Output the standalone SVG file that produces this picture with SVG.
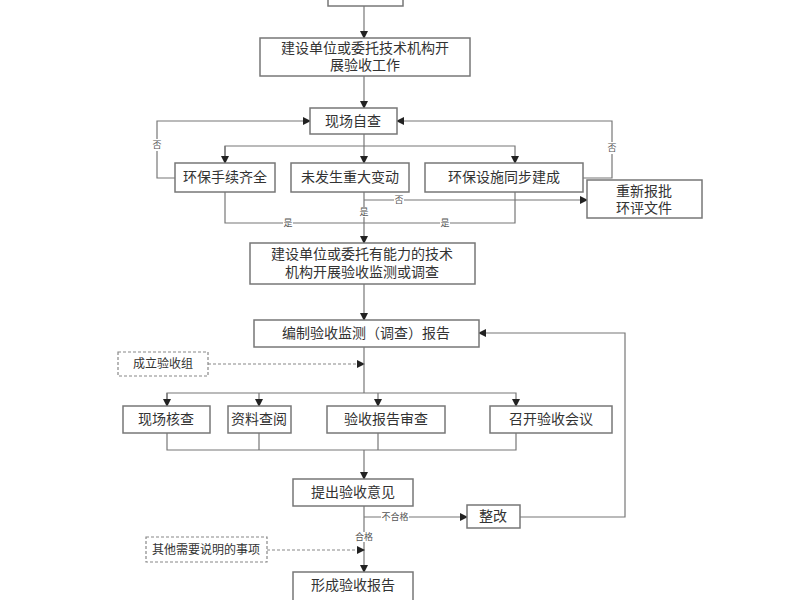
<svg xmlns="http://www.w3.org/2000/svg" width="800" height="600" viewBox="0 0 800 600">
<style>
.b{fill:#fff;stroke:#777;stroke-width:1.5}
.d{fill:#fff;stroke:#888;stroke-width:1.2;stroke-dasharray:3,2}
.t{font-family:"Liberation Serif","Noto Sans CJK SC",serif;font-size:14px;fill:#333;text-anchor:middle}
.s{font-family:"Liberation Serif","Noto Sans CJK SC",serif;font-size:9px;fill:#555;text-anchor:middle}
.l{fill:none;stroke:#777;stroke-width:1.2}
.ld{fill:none;stroke:#888;stroke-width:1.2;stroke-dasharray:3,2}
</style>
<defs><marker id="a" markerWidth="8" markerHeight="8" refX="7" refY="4" orient="auto" markerUnits="userSpaceOnUse"><path d="M0,0 L8,4 L0,8z" fill="#222"/></marker></defs>
<rect width="800" height="600" fill="#fff"/>
<g id="connectors">
<path class="l" d="M364,6 V38" marker-end="url(#a)"/>
<path class="l" d="M364,76 V108" marker-end="url(#a)"/>
<path class="l" d="M364,134 V163" marker-end="url(#a)"/>
<path class="l" d="M225,163 V146 H515 V163" marker-end="url(#a)"/>
<path class="l" d="M225,146 V163" marker-end="url(#a)"/>
<path class="l" d="M175,178 H157 V121 H310" marker-end="url(#a)"/>
<path class="l" d="M583,178 H612 V121 H397" marker-end="url(#a)"/>
<path class="l" d="M364,200 H587" marker-end="url(#a)"/>
<path class="l" d="M515,192 V223 H225 V192"/>
<path class="l" d="M364,192 V243" marker-end="url(#a)"/>
<path class="l" d="M364,284 V320" marker-end="url(#a)"/>
<path class="l" d="M520,517 H625 V333 H479" marker-end="url(#a)"/>
<path class="ld" d="M208,364 H364" marker-end="url(#a)"/>
<path class="l" d="M364,347 V393"/>
<path class="l" d="M167,406 V393 H516 V406" marker-end="url(#a)"/>
<path class="l" d="M167,393 V406" marker-end="url(#a)"/>
<path class="l" d="M259,393 V406" marker-end="url(#a)"/>
<path class="l" d="M378,393 V406" marker-end="url(#a)"/>
<path class="l" d="M167,433 V450 H516 V433 M259,433 V450 M378,433 V450"/>
<path class="l" d="M364,450 V479" marker-end="url(#a)"/>
<path class="l" d="M364,506 V572" marker-end="url(#a)"/>
<path class="l" d="M364,517 H467" marker-end="url(#a)"/>
<path class="ld" d="M267,550 H364" marker-end="url(#a)"/>
<rect x="152" y="139" width="10" height="12" fill="#fff"/><text class="s" x="157" y="148">否</text>
<rect x="607" y="142" width="10" height="12" fill="#fff"/><text class="s" x="612" y="151">否</text>
<rect x="394" y="195" width="10" height="10" fill="#fff"/><text class="s" x="399" y="203">否</text>
<rect x="359" y="207" width="10" height="10" fill="#fff"/><text class="s" x="364" y="215">是</text>
<rect x="283" y="218" width="10" height="10" fill="#fff"/><text class="s" x="288" y="226">是</text>
<rect x="440" y="218" width="10" height="10" fill="#fff"/><text class="s" x="445" y="226">是</text>
<rect x="381" y="512" width="28" height="10" fill="#fff"/><text class="s" x="395" y="520">不合格</text>
<rect x="354" y="532" width="20" height="10" fill="#fff"/><text class="s" x="364" y="540">合格</text>
</g>
<g id="n0"><rect class="b" x="328" y="-10" width="75" height="16"/></g>
<g id="n1"><rect class="b" x="260" y="38" width="210" height="38"/><text class="t" x="365" y="53">建设单位或委托技术机构开</text><text class="t" x="365" y="70">展验收工作</text></g>
<g id="n2"><rect class="b" x="310" y="108" width="87" height="26"/><text class="t" x="353" y="126">现场自查</text></g>
<g id="n3"><rect class="b" x="175" y="163" width="100" height="29"/><text class="t" x="225" y="182">环保手续齐全</text></g>
<g id="n4"><rect class="b" x="291" y="163" width="118" height="29"/><text class="t" x="350" y="182">未发生重大变动</text></g>
<g id="n5"><rect class="b" x="425" y="163" width="158" height="29"/><text class="t" x="504" y="182">环保设施同步建成</text></g>
<g id="n6"><rect class="b" x="587" y="180" width="115" height="38"/><text class="t" x="644" y="196">重新报批</text><text class="t" x="644" y="213">环评文件</text></g>
<g id="n7"><rect class="b" x="250" y="243" width="225" height="41"/><text class="t" x="362" y="259">建设单位或委托有能力的技术</text><text class="t" x="362" y="277">机构开展验收监测或调查</text></g>
<g id="n8"><rect class="b" x="254" y="320" width="225" height="27"/><text class="t" x="366" y="338">编制验收监测（调查）报告</text></g>
<g id="n9"><rect class="d" x="118" y="352" width="90" height="24"/><text class="t" x="163" y="368" style="font-size:12px">成立验收组</text></g>
<g id="n10"><rect class="b" x="123" y="406" width="87" height="27"/><text class="t" x="166" y="424">现场核查</text></g>
<g id="n11"><rect class="b" x="228" y="406" width="63" height="27"/><text class="t" x="259" y="424">资料查阅</text></g>
<g id="n12"><rect class="b" x="327" y="406" width="118" height="27"/><text class="t" x="386" y="424">验收报告审查</text></g>
<g id="n13"><rect class="b" x="490" y="406" width="122" height="27"/><text class="t" x="551" y="424">召开验收会议</text></g>
<g id="n14"><rect class="b" x="293" y="479" width="120" height="27"/><text class="t" x="353" y="497">提出验收意见</text></g>
<g id="n15"><rect class="b" x="467" y="505" width="53" height="23"/><text class="t" x="493" y="521">整改</text></g>
<g id="n16"><rect class="d" x="146" y="537" width="121" height="25"/><text class="t" x="206" y="554" style="font-size:12px">其他需要说明的事项</text></g>
<g id="n17"><rect class="b" x="293" y="572" width="120" height="30"/><text class="t" x="353" y="590">形成验收报告</text></g>
</svg>
